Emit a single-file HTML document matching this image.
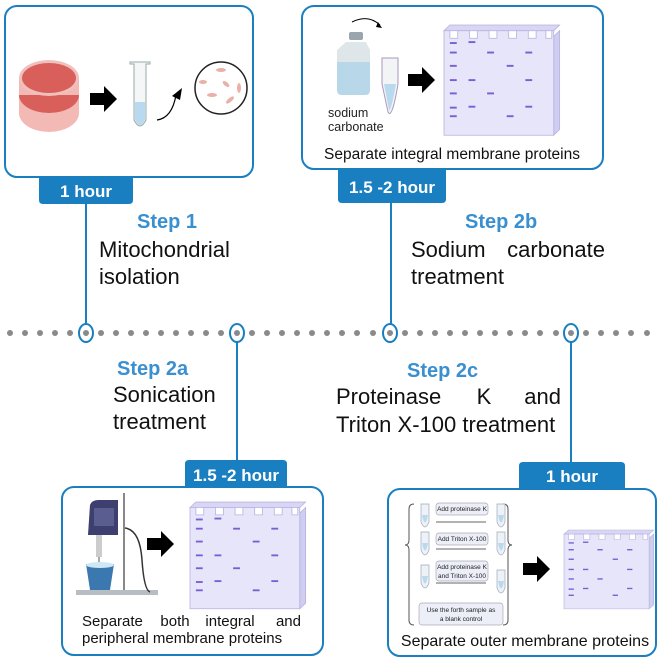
<!DOCTYPE html>
<html><head><meta charset="utf-8"><style>
html,body{margin:0;padding:0;background:#fff;}
svg{display:block;font-family:"Liberation Sans",Arial,sans-serif;}
</style></head><body>
<svg width="664" height="664" viewBox="0 0 664 664" xmlns="http://www.w3.org/2000/svg">
<defs>
<g id="gel">
  <path d="M112 12 L118 6 L118 110 L112 116 Z" fill="#cfcdf0" stroke="#b5b1e0" stroke-width="0.8"/>
  <path d="M0 6 L6 0 L118 0 L112 6 Z" fill="#d8d6f4" stroke="#b5b1e0" stroke-width="0.8"/>
  <path d="M0 6 L6 6 L6 14 L14 14 L14 6 L26 6 L26 14 L34 14 L34 6 L46 6 L46 14 L54 14 L54 6 L66 6 L66 14 L74 14 L74 6 L86 6 L86 14 L94 14 L94 6 L104 6 L104 14 L110 14 L110 6 L112 6 L112 116 L0 116 Z" fill="#e6e5fa" stroke="#b5b1e0" stroke-width="0.8"/>
  <g fill="#7a5ed2">
    <rect x="6" y="18" width="7" height="2"/><rect x="25" y="17" width="7" height="2"/>
    <rect x="6" y="28" width="7" height="2"/><rect x="44" y="28" width="7" height="2"/><rect x="83" y="28" width="7" height="2"/>
    <rect x="6" y="42" width="7" height="2"/><rect x="64" y="42" width="7" height="2"/>
    <rect x="6" y="57" width="7" height="2"/><rect x="25" y="57" width="7" height="2"/><rect x="83" y="57" width="7" height="2"/>
    <rect x="6" y="71" width="7" height="2"/><rect x="44" y="71" width="7" height="2"/>
    <rect x="6" y="86" width="7" height="2"/><rect x="25" y="85" width="7" height="2"/><rect x="83" y="85" width="7" height="2"/>
    <rect x="6" y="95" width="7" height="2"/><rect x="64" y="95" width="7" height="2"/>
  </g>
</g>
<path id="arrow" d="M0 -6 L14 -6 L14 -13 L27 0 L14 13 L14 6 L0 6 Z" fill="#000"/>
</defs>

<g fill="#8a8a8a">
  <circle cx="10" cy="333" r="3"/><circle cx="25" cy="333" r="3"/><circle cx="40" cy="333" r="3"/><circle cx="55" cy="333" r="3"/><circle cx="70" cy="333" r="3"/><circle cx="86" cy="333" r="3"/><circle cx="101" cy="333" r="3"/><circle cx="116" cy="333" r="3"/><circle cx="131" cy="333" r="3"/><circle cx="146" cy="333" r="3"/><circle cx="161" cy="333" r="3"/><circle cx="176" cy="333" r="3"/><circle cx="191" cy="333" r="3"/><circle cx="206" cy="333" r="3"/><circle cx="221" cy="333" r="3"/><circle cx="237" cy="333" r="3"/><circle cx="252" cy="333" r="3"/><circle cx="267" cy="333" r="3"/><circle cx="282" cy="333" r="3"/><circle cx="297" cy="333" r="3"/><circle cx="312" cy="333" r="3"/><circle cx="327" cy="333" r="3"/><circle cx="342" cy="333" r="3"/><circle cx="357" cy="333" r="3"/><circle cx="373" cy="333" r="3"/><circle cx="390" cy="333" r="3"/><circle cx="405" cy="333" r="3"/><circle cx="420" cy="333" r="3"/><circle cx="435" cy="333" r="3"/><circle cx="450" cy="333" r="3"/><circle cx="465" cy="333" r="3"/><circle cx="480" cy="333" r="3"/><circle cx="495" cy="333" r="3"/><circle cx="510" cy="333" r="3"/><circle cx="525" cy="333" r="3"/><circle cx="540" cy="333" r="3"/><circle cx="556" cy="333" r="3"/><circle cx="571" cy="333" r="3"/><circle cx="586" cy="333" r="3"/><circle cx="601" cy="333" r="3"/><circle cx="616" cy="333" r="3"/><circle cx="631" cy="333" r="3"/><circle cx="647" cy="333" r="3"/>
</g>

<g stroke="#1a7fc1" stroke-width="2" fill="none">
  <line x1="86" y1="204" x2="86" y2="324"/>
  <line x1="391" y1="203" x2="391" y2="324"/>
  <line x1="237" y1="342" x2="237" y2="460"/>
  <line x1="571" y1="342" x2="571" y2="462"/>
  <ellipse cx="86" cy="333" rx="7" ry="9"/>
  <ellipse cx="237" cy="333" rx="7" ry="9"/>
  <ellipse cx="390" cy="333" rx="7" ry="9"/>
  <ellipse cx="571" cy="333" rx="7" ry="9"/>
</g>

<g fill="#1a7fc1">
  <path d="M39 177 H133 V200 Q133 204 129 204 H43 Q39 204 39 200 Z"/>
  <path d="M338 168 H446 V199 Q446 203 442 203 H342 Q338 203 338 199 Z"/>
  <path d="M185 489 V464 Q185 460 189 460 H283 Q287 460 287 464 V489 Z"/>
  <path d="M519 492 V466 Q519 462 523 462 H621 Q625 462 625 466 V492 Z"/>
</g>
<g fill="#fff" font-weight="bold" font-size="17">
  <text x="86" y="197" text-anchor="middle">1 hour</text>
  <text x="392" y="193" text-anchor="middle">1.5 -2 hour</text>
  <text x="236" y="481" text-anchor="middle">1.5 -2 hour</text>
  <text x="572" y="482" text-anchor="middle">1 hour</text>
</g>

<g fill="#fff" stroke="#1a7fc1" stroke-width="2">
  <rect x="5" y="6" width="248" height="171" rx="12"/>
  <rect x="302" y="6" width="301" height="163" rx="12"/>
  <rect x="62" y="487" width="261" height="168" rx="12"/>
  <rect x="388" y="489" width="268" height="167" rx="12"/>
</g>

<g>
  <ellipse cx="49" cy="113" rx="30" ry="19" fill="#f2b9b5"/>
  <rect x="19" y="95" width="60" height="18" fill="#f2b9b5"/>
  <ellipse cx="49" cy="95" rx="30" ry="18" fill="#d9605a"/>
  <rect x="19" y="78" width="60" height="17" fill="#f2b9b5"/>
  <ellipse cx="49" cy="78" rx="30" ry="18" fill="#f0c0bc"/>
  <ellipse cx="49" cy="78" rx="27" ry="15" fill="#d9605a"/>
  <use href="#arrow" x="90" y="99"/>
  <path d="M130 62 H150 V64 H146 V120 Q140 132 134 120 V64 H130 Z" fill="#f4f6f8" stroke="#9aa" stroke-width="1"/>
  <path d="M135 102 H145 V120 Q140 130 135 120 Z" fill="#b9d9ee"/>
  <path d="M157 120 Q172 118 176 95" stroke="#000" stroke-width="1.2" fill="none"/>
  <path d="M172 96 L182 88 L180 100 Z" fill="#000"/>
  <circle cx="221" cy="88" r="26" fill="#fff" stroke="#222" stroke-width="1.5"/>
  <g fill="#e8b2a8"><ellipse cx="221" cy="70" rx="5" ry="2"/><ellipse cx="203" cy="82" rx="4" ry="2"/><ellipse cx="226" cy="84" rx="4" ry="2" transform="rotate(40 226 84)"/><ellipse cx="239" cy="88" rx="2" ry="5"/><ellipse cx="212" cy="95" rx="5" ry="2"/><ellipse cx="230" cy="100" rx="5" ry="2" transform="rotate(-40 230 100)"/></g>
</g>

<g>
  <path d="M352 22 Q368 14 380 25" stroke="#000" stroke-width="1" fill="none"/>
  <path d="M378 22 L382 28 L376 27 Z" fill="#000"/>
  <rect x="349" y="32" width="14" height="8" rx="2" fill="#9aa5ad"/>
  <path d="M346 42 H366 L370 50 V90 Q370 95 365 95 H342 Q337 95 337 90 V50 Z" fill="#dfe6ea"/>
  <path d="M337 62 H370 V90 Q370 95 365 95 H342 Q337 95 337 90 Z" fill="#b8d7e8"/>
  <path d="M382 58 H398 V84 Q392 120 388 112 L382 84 Z" fill="#f2f4f6" stroke="#a9b" stroke-width="1"/>
  <path d="M384 84 H396 Q391 112 389 110 Z" fill="#b9d9ee"/>
  <use href="#arrow" x="408" y="80"/>
  <use href="#gel" transform="translate(444 25) scale(0.98 0.95)"/>
  <text x="328" y="117" font-size="12.5" fill="#222">sodium</text>
  <text x="328" y="131" font-size="12.5" fill="#222">carbonate</text>
  <text x="452" y="159" font-size="15.5" fill="#111" text-anchor="middle">Separate integral membrane proteins</text>
</g>

<g>
  <rect x="76" y="590" width="82" height="5" fill="#b8bcc3"/>
  <line x1="124" y1="493" x2="124" y2="590" stroke="#888" stroke-width="2"/>
  <path d="M90 505 Q92 500 98 500 H118 V535 H88 Z" fill="#3d3f6e"/>
  <rect x="94" y="508" width="20" height="18" fill="#5a5d8f"/>
  <rect x="96" y="535" width="6" height="22" fill="#ccc"/>
  <line x1="99" y1="557" x2="99" y2="575" stroke="#555" stroke-width="1"/>
  <path d="M86 564 H114 L110 590 H90 Z" fill="#3b78b0"/>
  <ellipse cx="100" cy="565" rx="14" ry="3" fill="#cfe8f5"/>
  <path d="M125 528 Q140 530 142 560 Q144 590 150 592" stroke="#333" stroke-width="1.5" fill="none"/>
  <use href="#arrow" x="147" y="544"/>
  <use href="#gel" transform="translate(190 502) scale(0.98 0.92)"/>
  <g font-size="15" fill="#111">
    <text x="82" y="626">Separate</text>
    <text x="175" y="626" text-anchor="middle">both</text>
    <text x="230" y="626" text-anchor="middle">integral</text>
    <text x="301" y="626" text-anchor="end">and</text>
    <text x="82" y="643">peripheral membrane proteins</text>
  </g>
</g>

<g>
  <path d="M414 504 Q409 504 409 509 V540 Q409 545 405 545 Q409 545 409 550 V620 Q409 625 414 625" stroke="#555" stroke-width="1" fill="none"/>
  <path d="M503 504 Q508 504 508 509 V540 Q508 545 512 545 Q508 545 508 550 V620 Q508 625 503 625" stroke="#555" stroke-width="1" fill="none"/>
  <g fill="#eef1f6" stroke="#9ab" stroke-width="0.7">
    <path d="M421 504 H429 V522 Q425 532 421 522 Z"/><path d="M497 504 H505 V522 Q501 532 497 522 Z"/>
    <path d="M421 532 H429 V550 Q425 560 421 550 Z"/><path d="M497 532 H505 V550 Q501 560 497 550 Z"/>
    <path d="M421 565 H429 V583 Q425 593 421 583 Z"/><path d="M497 570 H505 V588 Q501 598 497 588 Z"/>
  </g>
  <g fill="#b9d9ee"><path d="M422 515 H428 Q425 530 422 515Z"/><path d="M498 515 H504 Q501 530 498 515Z"/><path d="M422 543 H428 Q425 558 422 543Z"/><path d="M498 543 H504 Q501 558 498 543Z"/><path d="M422 576 H428 Q425 591 422 576Z"/><path d="M498 581 H504 Q501 596 498 581Z"/></g>
  <g fill="#eceef8" stroke="#aab" stroke-width="0.7">
    <rect x="436" y="503" width="52" height="12" rx="3"/>
    <rect x="436" y="533" width="52" height="12" rx="3"/>
    <rect x="436" y="561" width="52" height="20" rx="3"/>
    <rect x="419" y="603" width="84" height="22" rx="3"/>
  </g>
  <g font-size="6.5" fill="#222" text-anchor="middle">
    <text x="462" y="511">Add proteinase K</text>
    <text x="462" y="541">Add Triton X-100</text>
    <text x="462" y="569">Add proteinase K</text>
    <text x="462" y="578">and Triton X-100</text>
    <text x="461" y="612">Use the forth sample as</text>
    <text x="461" y="621">a blank control</text>
  </g>
  <g stroke="#333" stroke-width="0.7"><line x1="436" y1="522" x2="486" y2="522"/><line x1="436" y1="549" x2="486" y2="549"/><line x1="436" y1="583" x2="486" y2="583"/></g>
  <use href="#arrow" x="523" y="569"/>
  <use href="#gel" transform="translate(564 530) scale(0.76 0.68)"/>
  <text x="525" y="646" font-size="16" fill="#111" text-anchor="middle">Separate outer membrane proteins</text>
</g>

<g font-weight="bold" font-size="20" fill="#3a8fd0">
  <text x="137" y="228">Step 1</text>
  <text x="465" y="228">Step 2b</text>
  <text x="117" y="375">Step 2a</text>
  <text x="407" y="377">Step 2c</text>
</g>
<g font-size="22" fill="#111">
  <text x="99" y="257">Mitochondrial</text>
  <text x="99" y="284">isolation</text>
  <text x="411" y="257">Sodium</text>
  <text x="605" y="257" text-anchor="end">carbonate</text>
  <text x="411" y="284">treatment</text>
  <text x="113" y="402">Sonication</text>
  <text x="113" y="429">treatment</text>
  <text x="336" y="404">Proteinase</text>
  <text x="484" y="404" text-anchor="middle">K</text>
  <text x="561" y="404" text-anchor="end">and</text>
  <text x="336" y="432">Triton X-100 treatment</text>
</g>
</svg>
</body></html>
